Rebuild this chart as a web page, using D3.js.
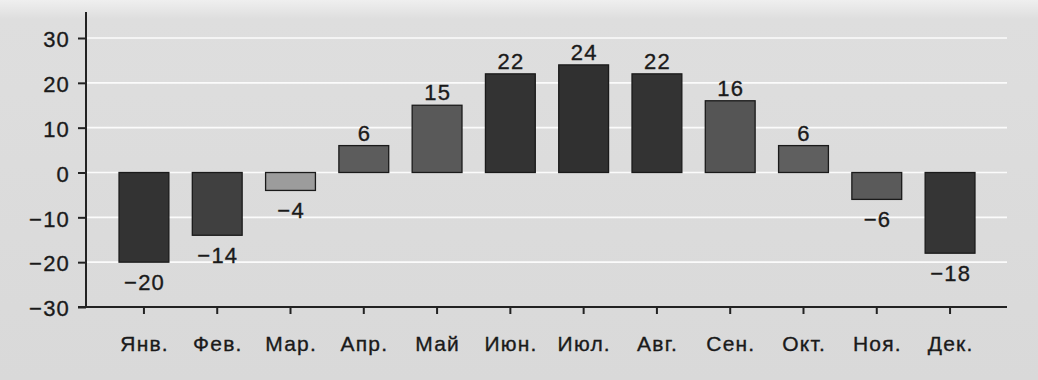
<!DOCTYPE html>
<html>
<head>
<meta charset="utf-8">
<script src="https://cdn.jsdelivr.net/npm/d3@7/dist/d3.min.js"></script>
<style>
  html, body { margin: 0; padding: 0; background: #dcdcdc; }
  svg { display: block; }
  text { font-family: "Liberation Sans", Arial, sans-serif; fill: #1a1a1a; stroke: #1a1a1a; stroke-width: 0.35px; }
</style>
</head>
<body>
<svg id="chart" width="1038" height="380"></svg>
<script>
// Monthly average temperature, °C
const months = ["Янв.", "Фев.", "Мар.", "Апр.", "Май", "Июн.", "Июл.", "Авг.", "Сен.", "Окт.", "Ноя.", "Дек."];
const temps = [-20, -14, -4, 6, 15, 22, 24, 22, 16, 6, -6, -18];
const yTicks = [-30, -20, -10, 0, 10, 20, 30];

// Bar shades per month
const tone = d3.scaleOrdinal()
  .domain(months)
  .range(["#333333", "#404040", "#9c9c9c", "#5c5c5c", "#595959", "#333333",
          "#303030", "#333333", "#555555", "#5f5f5f", "#5a5a5a", "#353535"]);

const svg = d3.select("#chart");
const W = 1038, H = 380;
const FONT = "Liberation Sans, Arial, sans-serif";

// paper-like backdrop, a little lighter near the top edge
const defs = svg.append("defs");
const grad = defs.append("linearGradient").attr("id", "paper").attr("x1", 0).attr("y1", 0).attr("x2", 0).attr("y2", 1);
grad.append("stop").attr("offset", "0").attr("stop-color", "#efefef");
grad.append("stop").attr("offset", "0.05").attr("stop-color", "#dedede");
grad.append("stop").attr("offset", "1").attr("stop-color", "#d9d9d9");
svg.append("rect").attr("width", W).attr("height", H).attr("fill", "url(#paper)");

const axisX = 86, gridRight = 1007;

const x = d3.scaleBand()
  .domain(months)
  .range([107.3, 986.7])
  .paddingInner(0.32)
  .paddingOuter(0.16);

const y = d3.scaleLinear().domain([-30, 30]).range([307, 38]);

// white horizontal gridlines
svg.append("g")
  .selectAll("line")
  .data(yTicks.filter(t => t !== -30))
  .join("line")
  .attr("x1", axisX).attr("x2", gridRight)
  .attr("y1", d => y(d)).attr("y2", d => y(d))
  .attr("stroke", "#fbfbfb").attr("stroke-width", 1.6);

const rows = months.map((m, i) => ({ m, v: temps[i] }));

// bars
svg.append("g")
  .selectAll("rect")
  .data(rows)
  .join("rect")
  .attr("x", d => x(d.m))
  .attr("width", x.bandwidth())
  .attr("y", d => y(Math.max(0, d.v)))
  .attr("height", d => Math.abs(y(d.v) - y(0)))
  .attr("fill", d => tone(d.m))
  .attr("stroke", "#1a1a1a")
  .attr("stroke-width", 1.3);

const fmt = v => (v < 0 ? "\u2212" + Math.abs(v) : String(v));

// value labels
svg.append("g")
  .selectAll("text")
  .data(rows)
  .join("text")
  .attr("x", d => x(d.m) + x.bandwidth() / 2 + 0.6)
  .attr("y", d => d.v >= 0 ? y(d.v) - 5 : y(d.v) + 28)
  .attr("text-anchor", "middle")
  .attr("font-size", 22)
  .attr("letter-spacing", 1.2)
  .text(d => fmt(d.v));

// y axis
const yAxis = svg.append("g").attr("transform", `translate(${axisX},0)`)
  .call(d3.axisLeft(y).tickValues(yTicks).tickSize(8).tickPadding(8).tickFormat(fmt));
yAxis.select(".domain").remove();
yAxis.append("line").attr("x1", 0).attr("x2", 0).attr("y1", 12).attr("y2", 307)
  .attr("stroke", "#222").attr("stroke-width", 2);
yAxis.selectAll(".tick line").attr("stroke", "#222").attr("stroke-width", 2);
yAxis.selectAll(".tick text").attr("font-size", 22).attr("letter-spacing", 1.2)
  .style("fill", "#1a1a1a").attr("font-family", FONT).attr("dy", "0.4em");

// x axis
const xAxis = svg.append("g").attr("transform", `translate(0,${y(-30)})`)
  .call(d3.axisBottom(x).tickSize(7).tickPadding(22));
xAxis.select(".domain").remove();
xAxis.append("line").attr("x1", 78).attr("x2", gridRight).attr("y1", 0).attr("y2", 0)
  .attr("stroke", "#222").attr("stroke-width", 2);
xAxis.selectAll(".tick line").attr("stroke", "#222").attr("stroke-width", 2);
xAxis.selectAll(".tick text").attr("font-size", 21).attr("letter-spacing", 1.2)
  .style("fill", "#1a1a1a").attr("font-family", FONT).attr("dx", 0.6);
</script>
</body>
</html>
